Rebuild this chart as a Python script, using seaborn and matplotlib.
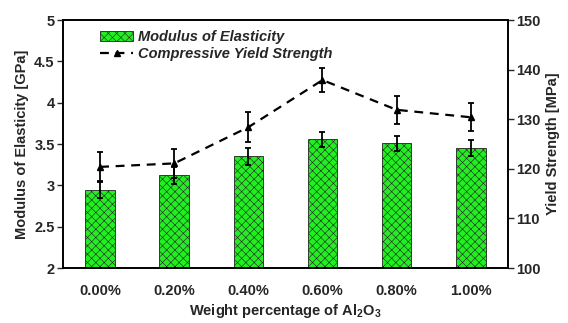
import matplotlib
matplotlib.use("Agg")
import matplotlib.pyplot as plt
import seaborn as sns
import numpy as np
import pandas as pd
from matplotlib.lines import Line2D
from matplotlib.patches import Patch

categories = ["0.00%", "0.20%", "0.40%", "0.60%", "0.80%", "1.00%"]
modulus = [2.95, 3.12, 3.35, 3.56, 3.51, 3.45]
modulus_err = [0.10, 0.10, 0.10, 0.09, 0.09, 0.10]
yield_strength = [120.4, 121.1, 128.4, 137.9, 131.9, 130.4]
yield_err = [3.0, 3.0, 3.0, 2.4, 2.8, 2.8]

sns.set_style("white")
plt.rcParams['font.family'] = ['Liberation Sans', 'DejaVu Sans']
plt.rcParams['font.weight'] = 'bold'
plt.rcParams['hatch.linewidth'] = 0.4
plt.rcParams['mathtext.default'] = 'regular'

fig, ax = plt.subplots(figsize=(5.68, 3.23), dpi=100)
fig.subplots_adjust(left=0.111, right=0.894, top=0.938, bottom=0.170)

df = pd.DataFrame({"cat": categories, "mod": modulus})
sns.barplot(data=df, x="cat", y="mod", ax=ax, color="#22ee22", width=0.4,
            edgecolor="#222222", linewidth=0.6, hatch="xxxx", saturation=1)
xs = np.arange(len(categories))
ax.errorbar(xs, modulus, yerr=modulus_err, fmt="none", ecolor="black",
            elinewidth=1.3, capsize=2.5, capthick=1.3, zorder=5)
ax.set_ylim(2, 5)
ax.set_xlim(-0.5, 5.5)
ax.set_yticks([2, 2.5, 3, 3.5, 4, 4.5, 5])
ax.set_yticklabels(["2", "2.5", "3", "3.5", "4", "4.5", "5"])
ax.set_ylabel("Modulus of Elasticity [GPa]", fontsize=10.5, fontweight="bold", labelpad=4)
ax.set_xlabel("Weight percentage of Al$_2$O$_3$", fontsize=10.5, fontweight="bold", labelpad=3)
ax.tick_params(axis="y", which="both", left=True, direction="out", length=4, width=1,
               labelsize=10.5, pad=2)
ax.tick_params(axis="x", bottom=False, labelsize=10.5, pad=8)
for lab in ax.get_xticklabels() + ax.get_yticklabels():
    lab.set_fontweight("bold")
for s in ax.spines.values():
    s.set_color("black")
    s.set_linewidth(1.2)

ax2 = ax.twinx()
ax2.errorbar(xs, yield_strength, yerr=yield_err, fmt="^", color="black",
             markersize=5, ecolor="black", elinewidth=1.3, capsize=2.5, capthick=1.3, zorder=6)
sns.lineplot(x=xs, y=yield_strength, ax=ax2, color="black", linestyle="--",
             linewidth=1.6, dashes=False)
ax2.lines[-1].set_dashes((4, 3))
ax2.set_ylim(100, 150)
ax2.set_yticks([100, 110, 120, 130, 140, 150])
ax2.set_ylabel("Yield Strength [MPa]", fontsize=10.5, fontweight="bold", labelpad=4)
ax2.tick_params(axis="y", right=True, direction="out", length=4, width=1, labelsize=10.5, pad=2)
for lab in ax2.get_yticklabels():
    lab.set_fontweight("bold")
for s in ax2.spines.values():
    s.set_color("black")
    s.set_linewidth(1.2)
ax2.set_xlim(-0.5, 5.5)

handles = [Patch(facecolor="#22ee22", edgecolor="#222222", hatch="xxxx", linewidth=0.6),
           Line2D([0], [0], color="black", linestyle=(0, (4, 3)), marker="^", markersize=5, linewidth=1.6)]
leg = ax2.legend(handles, ["Modulus of Elasticity", "Compressive Yield Strength"],
                 loc="upper left", bbox_to_anchor=(0.06, 1.0), frameon=False,
                 prop={"size": 10.5, "weight": "bold", "style": "italic"},
                 handlelength=2.3, handletextpad=0.3, labelspacing=0.2, borderaxespad=0.3)

fig.savefig("out.png", dpi=100)
